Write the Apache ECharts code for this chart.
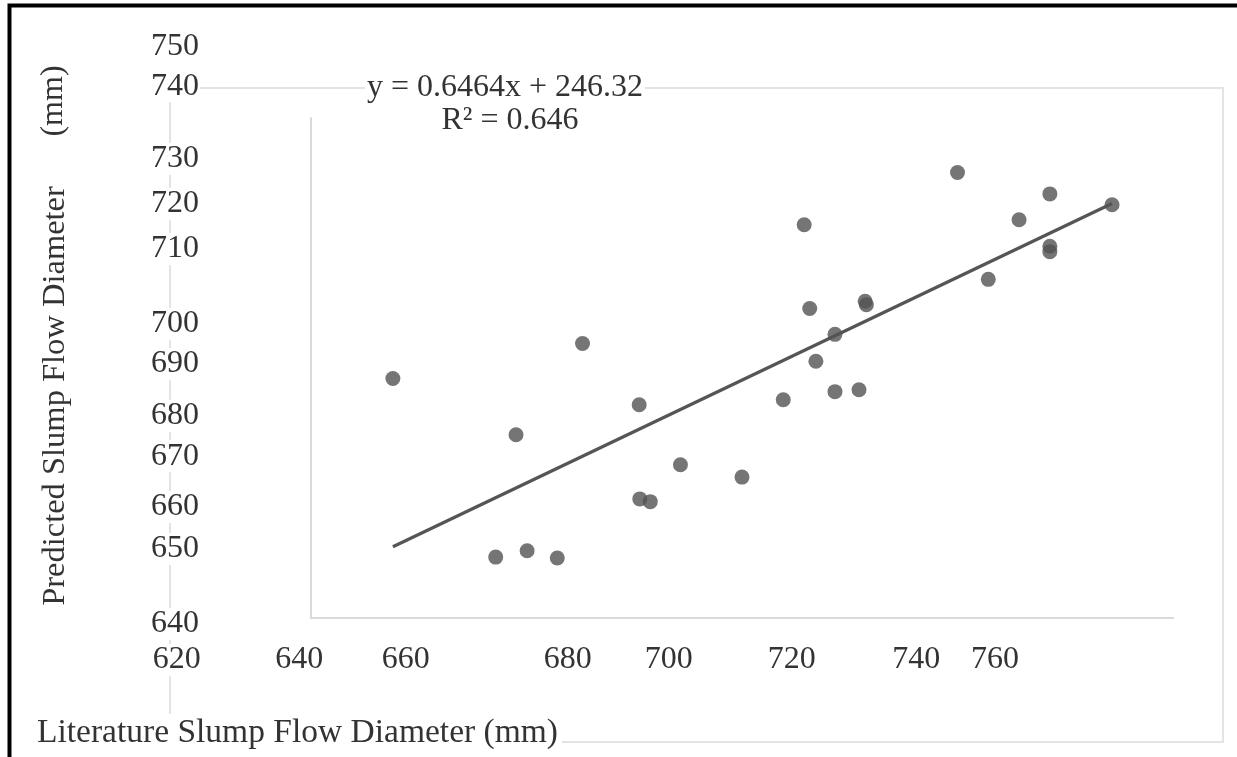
<!DOCTYPE html>
<html>
<head>
<meta charset="utf-8">
<script src="https://cdn.jsdelivr.net/npm/echarts@6/dist/echarts.min.js"></script>
<style>
  html, body { margin: 0; padding: 0; background: #fff; }
  #chart { width: 1237px; height: 757px; }
</style>
</head>
<body>
<div id="chart"></div>
<script>
// ---- data ----
const literatureFlow = [633.3, 653.3, 650.0, 655.1, 660.0, 664.1, 673.3, 673.4, 675.1, 680.0, 690.0, 696.7, 700.1, 701.0, 702.0, 705.1, 705.1, 709.0, 710.0, 710.2, 725.0, 730.0, 735.0, 740.0, 740.0, 740.0, 750.1];
const predictedFlow  = [692.7, 680.3, 653.4, 654.8, 653.2, 700.4, 686.9, 666.2, 665.6, 673.7, 671.0, 688.0, 726.5, 708.1, 696.5, 702.4, 689.8, 690.2, 709.7, 708.9, 738.0, 714.5, 727.6, 733.3, 721.8, 720.6, 730.9];
const trendSlope = 0.6464;
const trendIntercept = 246.32;
const rSquared = 0.646;

// tick label texts (as printed) and the data value where each one sits
const xTickLabels = ['620', '640', '660', '680', '700', '720', '740', '760'];
const xTickAt     = [598.2, 618.1, 635.4, 661.7, 678.1, 698.1, 718.3, 731.1];
const yTickLabels = ['750', '740', '730', '720', '710', '700', '690', '680', '670', '660', '650', '640'];
const yTickAt     = [765.8, 757.0, 741.0, 731.1, 721.2, 704.7, 695.9, 684.5, 675.6, 664.4, 655.2, 638.7];

const xTitle = 'Literature Slump Flow Diameter (mm)';
const yTitle = 'Predicted Slump Flow Diameter';
const yUnit = '(mm)';

// ---- build ----
const points = literatureFlow.map((x, i) => [x, predictedFlow[i]]);
const xMinData = Math.min(...literatureFlow);
const xMaxData = Math.max(...literatureFlow);
const trend = [xMinData, xMaxData].map(x => [x, trendSlope * x + trendIntercept]);

const FONT = "'Liberation Serif', 'Times New Roman', serif";
const TXT = '#333333';

function lookup(vals, labels, v) {
  for (let i = 0; i < vals.length; i++) if (Math.abs(vals[i] - v) < 1e-6) return labels[i];
  return '';
}

const chart = echarts.init(document.getElementById('chart'), null, { renderer: 'canvas' });
chart.setOption({
  backgroundColor: '#fff',
  animation: false,
  grid: [
    { left: 311, right: 64, top: 118, bottom: 139 },
    { left: 126.29, right: 64, top: 118, bottom: 121 },
    { left: 208, right: 64, top: 27.09, bottom: 93.55 }
  ],
  xAxis: [
    { gridIndex: 0, type: 'value', min: 620, max: 760,
      axisLine: { show: true, onZero: false, lineStyle: { color: '#d9d9d9', width: 2 } },
      axisTick: { show: false }, axisLabel: { show: false }, splitLine: { show: false } },
    { gridIndex: 1, type: 'value', min: 590, max: 760,
      axisLine: { show: false }, axisTick: { show: false }, splitLine: { show: false },
      axisLabel: { show: true, customValues: xTickAt, margin: 8,
        formatter: v => lookup(xTickAt, xTickLabels, v),
        fontFamily: FONT, fontSize: 32, lineHeight: 32, color: TXT,
        backgroundColor: '#fff', padding: [0, 1] } },
    { gridIndex: 2, type: 'value', min: 0, max: 1, show: false }
  ],
  yAxis: [
    { gridIndex: 0, type: 'value', min: 640, max: 750,
      axisLine: { show: true, onZero: false, lineStyle: { color: '#d9d9d9', width: 2 } },
      axisTick: { show: false }, axisLabel: { show: false }, splitLine: { show: false } },
    { gridIndex: 1, type: 'value', min: 0, max: 1, show: false },
    { gridIndex: 2, type: 'value', min: 630, max: 770,
      axisLine: { show: false }, axisTick: { show: false }, splitLine: { show: false },
      axisLabel: { show: true, customValues: yTickAt, margin: 8,
        formatter: v => lookup(yTickAt, yTickLabels, v),
        fontFamily: FONT, fontSize: 32, lineHeight: 32, color: TXT,
        backgroundColor: '#fff', padding: [0, 1] } }
  ],
  series: [
    { type: 'line', xAxisIndex: 0, yAxisIndex: 0, data: trend, showSymbol: false,
      lineStyle: { color: '#555555', width: 3.2 }, z: 2 },
    { type: 'scatter', xAxisIndex: 0, yAxisIndex: 0, data: points, symbolSize: 15,
      itemStyle: { color: '#525252' }, z: 3 }
  ],
  graphic: [
    { type: 'rect', z: -5, silent: true,
      shape: { x: 170, y: 88, width: 1053, height: 654 },
      style: { fill: 'none', stroke: '#e4e4e4', lineWidth: 2 } },
    { type: 'text', z: 10, silent: true,
      style: { text: 'y = ' + trendSlope + 'x + ' + trendIntercept, x: 505, y: 88,
        align: 'center', verticalAlign: 'middle', font: '32px ' + FONT, fill: TXT,
        backgroundColor: '#fff', padding: [0, 2] } },
    { type: 'text', z: 10, silent: true,
      style: { text: 'R² = ' + rSquared, x: 510, y: 121,
        align: 'center', verticalAlign: 'middle', font: '32px ' + FONT, fill: TXT } },
    { type: 'text', z: 10, silent: true,
      style: { text: xTitle, x: 33, y: 733,
        align: 'left', verticalAlign: 'middle', font: '33.5px ' + FONT, fill: TXT,
        backgroundColor: '#fff', padding: [2, 4] } },
    { type: 'text', z: 10, silent: true, x: 55, y: 396, rotation: Math.PI / 2,
      style: { text: yTitle, x: 0, y: 0,
        align: 'center', verticalAlign: 'middle', font: '32.5px ' + FONT, fill: TXT } },
    { type: 'text', z: 10, silent: true, x: 54, y: 101, rotation: Math.PI / 2,
      style: { text: yUnit, x: 0, y: 0,
        align: 'center', verticalAlign: 'middle', font: '32px ' + FONT, fill: TXT } },
    { type: 'rect', z: 20, silent: true,
      shape: { x: 9.5, y: 5.5, width: 1400, height: 900 },
      style: { fill: 'none', stroke: '#000', lineWidth: 4 } }
  ]
});
</script>
</body>
</html>
